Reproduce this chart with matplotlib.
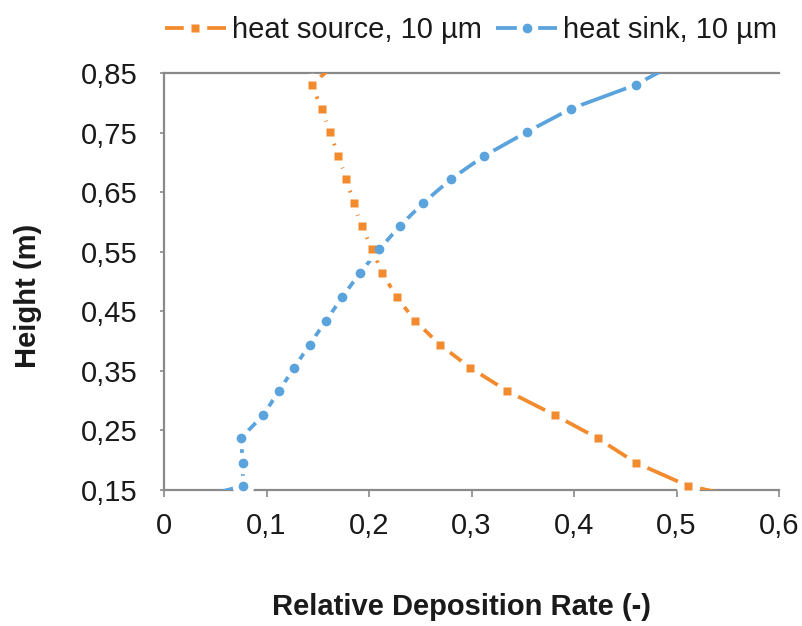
import numpy as np
import matplotlib
matplotlib.use("Agg")
import matplotlib.pyplot as plt
from matplotlib.legend_handler import HandlerTuple

# ---- data ----
heights = [0.117, 0.157, 0.196, 0.237, 0.276, 0.316, 0.355, 0.394, 0.434, 0.474,
           0.514, 0.554, 0.593, 0.632, 0.672, 0.711, 0.751, 0.790, 0.830, 0.870]
heat_source = [0.620, 0.511, 0.460, 0.423, 0.381, 0.335, 0.299, 0.269, 0.245, 0.227,
               0.213, 0.203, 0.193, 0.185, 0.178, 0.170, 0.162, 0.154, 0.144, 0.170]
heat_sink = [-0.010, 0.077, 0.077, 0.075, 0.097, 0.112, 0.127, 0.142, 0.158, 0.174,
             0.191, 0.210, 0.230, 0.253, 0.280, 0.3125, 0.354, 0.397, 0.460, 0.503]
series_labels = ["heat source, 10 µm", "heat sink, 10 µm"]
x_ticks = [0, 0.1, 0.2, 0.3, 0.4, 0.5, 0.6]
x_ticklabels = ["0", "0,1", "0,2", "0,3", "0,4", "0,5", "0,6"]
y_ticks = [0.15, 0.25, 0.35, 0.45, 0.55, 0.65, 0.75, 0.85]
y_ticklabels = ["0,15", "0,25", "0,35", "0,45", "0,55", "0,65", "0,75", "0,85"]
x_label = "Relative Deposition Rate (-)"
y_label = "Height (m)"

plt.rcParams['font.family'] = ['Liberation Sans', 'DejaVu Sans']

W, H = 802, 626
fig = plt.figure(figsize=(W / 100, H / 100), dpi=100)
ax = fig.add_axes([164 / W, 1 - 490 / H, (779 - 164) / W, (490 - 73) / H])

xlim = (0, 0.6)
ylim = (0.15, 0.85)
ax.set_xlim(*xlim)
ax.set_ylim(*ylim)

ORANGE = '#F28A2E'
BLUE = '#5BA3DC'
SPINE = '#8A8A8A'
TXT = '#1a1a1a'
FS = 21

h = np.array(heights)
inside = (h >= ylim[0]) & (h <= ylim[1])

handles = []
styles = [(heat_source, ORANGE, 's', 6.0, 17), (heat_sink, BLUE, 'o', 7.0, 15.5)]
for (vals, col, mk, ms, halo), lab in zip(styles, series_labels):
    v = np.array(vals)
    ln, = ax.plot(v, h, color=col, lw=2.7, zorder=3, solid_capstyle='butt')
    hl, = ax.plot(v[inside], h[inside], ls='none', marker='o', ms=halo,
                  mfc='white', mec='none', zorder=3.1, clip_on=False)
    mkr, = ax.plot(v[inside], h[inside], ls='none', marker=mk, ms=ms,
                   mfc=col, mec='none', zorder=3.2, clip_on=False)
    handles.append(((ln, hl, mkr), lab))

for s in ['left', 'bottom', 'top']:
    ax.spines[s].set_color(SPINE)
    ax.spines[s].set_linewidth(1.6)
ax.spines['right'].set_visible(False)

ax.set_xticks(x_ticks)
ax.set_xticklabels(x_ticklabels)
ax.set_yticks(y_ticks)
ax.set_yticklabels(y_ticklabels)
ax.tick_params(axis='x', direction='out', length=5, width=1.2, color=SPINE,
               labelsize=FS, pad=11, labelcolor=TXT)
ax.tick_params(axis='y', direction='out', length=3, width=1.2, color=SPINE,
               labelsize=FS, pad=16, labelcolor=TXT)

fig.text(461 / W, 1 - 607 / H, x_label, fontsize=FS, fontweight='bold',
         ha='center', va='center', color=TXT)
fig.text(28 / W, 1 - 296 / H, y_label, fontsize=FS, fontweight='bold',
         rotation=90, ha='center', va='center', color=TXT)

leg = fig.legend([hd for hd, _ in handles], [lb for _, lb in handles],
                 handler_map={tuple: HandlerTuple(ndivide=1)},
                 loc='center', bbox_to_anchor=(471 / W, 1 - 30 / H), ncol=2,
                 frameon=False, fontsize=FS, handlelength=2.1, handletextpad=0.2,
                 columnspacing=0.5, borderpad=0, numpoints=1)
for t in leg.get_texts():
    t.set_color(TXT)

fig.savefig('out.png', dpi=100)
